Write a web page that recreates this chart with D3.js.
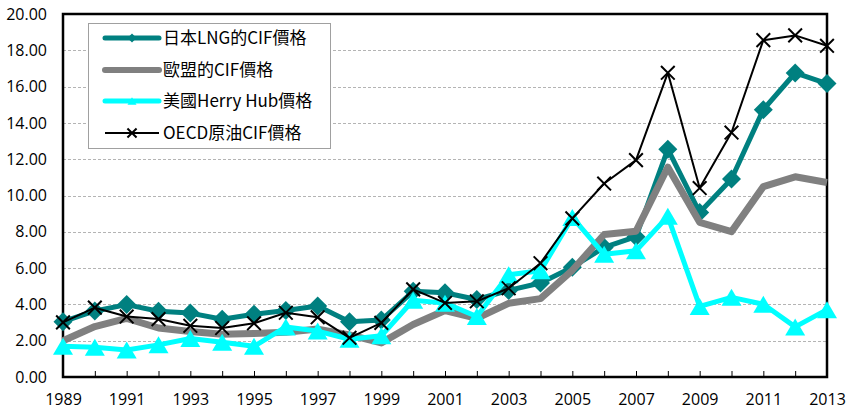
<!DOCTYPE html>
<html>
<head>
<meta charset="utf-8">
<script src="https://cdn.jsdelivr.net/npm/d3@7"></script>
<style>
  body { margin: 0; background: #fff; }
  text { font-family: "Open Sans", "Noto Sans CJK TC", sans-serif; }
</style>
</head>
<body>
<div id="chart"></div>
<script>
const w = 851;
const h = 409;

// data, US$/MMBtu
var years = d3.range(1989, 2014);
var yTicks = [0, 2, 4, 6, 8, 10, 12, 14, 16, 18, 20];
var labelYears = years.filter(function(y) { return y % 2 === 1; });

var japanLng = [3.05, 3.64, 3.99, 3.62, 3.52, 3.18, 3.46, 3.66, 3.91, 3.05, 3.14, 4.72, 4.64, 4.27, 4.77, 5.18, 6.05, 7.14, 7.73, 12.55, 9.06, 10.91, 14.73, 16.75, 16.17];
var euCif = [2.00, 2.78, 3.23, 2.70, 2.51, 2.35, 2.39, 2.46, 2.64, 2.32, 1.88, 2.89, 3.66, 3.23, 4.06, 4.32, 5.88, 7.85, 8.03, 11.56, 8.52, 8.01, 10.49, 11.03, 10.72];
var henryHub = [1.69, 1.64, 1.49, 1.77, 2.12, 1.92, 1.69, 2.76, 2.53, 2.08, 2.27, 4.23, 4.07, 3.33, 5.63, 5.85, 8.79, 6.76, 6.95, 8.85, 3.89, 4.39, 4.01, 2.76, 3.71];
var oecdOil = [3.01, 3.82, 3.33, 3.19, 2.82, 2.70, 2.96, 3.54, 3.29, 2.16, 2.98, 4.83, 4.08, 4.17, 4.89, 6.27, 8.74, 10.66, 11.95, 16.76, 10.41, 13.47, 18.56, 18.82, 18.25];

var series = [
    { name: "日本LNG的CIF價格", values: japanLng, color: "#008080", width: 5, marker: "diamond" },
    { name: "歐盟的CIF價格", values: euCif, color: "#808080", width: 7, marker: null },
    { name: "美國Herry Hub價格", values: henryHub, color: "#00ffff", width: 5, marker: "triangle" },
    { name: "OECD原油CIF價格", values: oecdOil, color: "#000000", width: 2, marker: "cross" }
];

var plotL = 63, plotR = 827, plotT = 14, plotB = 377;

var svg = d3.select("#chart")
    .append("svg")
    .attr("width", w)
    .attr("height", h);

var x = d3.scalePoint().domain(years).range([plotL, plotR]);
var y = d3.scaleLinear().domain([0, 20]).range([plotB, plotT]);

// gridlines
svg.append("g")
    .selectAll("line")
    .data(yTicks.filter(function(t) { return t > 0 && t < 20; }))
    .enter()
    .append("line")
    .attr("x1", plotL)
    .attr("x2", plotR)
    .attr("y1", function(d) { return Math.round(y(d)) + 0.5; })
    .attr("y2", function(d) { return Math.round(y(d)) + 0.5; })
    .attr("stroke", "#b4b4b4")
    .attr("stroke-width", 1)
    .attr("stroke-dasharray", "3,2");

// y labels
var yAxis = svg.append("g")
    .attr("transform", "translate(" + plotL + ",0)")
    .call(d3.axisLeft(y).tickValues(yTicks).tickSize(0).tickPadding(16).tickFormat(d3.format(".2f")));
yAxis.select(".domain").remove();
yAxis.selectAll("text").attr("font-size", 16).attr("fill", "#000")
    .style("font-family", "'Open Sans', sans-serif");

// x tick marks (inside) and labels
var xTicks = svg.append("g")
    .attr("transform", "translate(0," + plotB + ")")
    .call(d3.axisBottom(x).tickSize(-6).tickFormat(""));
xTicks.select(".domain").remove();
xTicks.selectAll("line").attr("stroke", "#000").attr("stroke-width", 1);

var xLabels = svg.append("g")
    .attr("transform", "translate(0," + plotB + ")")
    .call(d3.axisBottom(x).tickValues(labelYears).tickSize(0).tickPadding(17));
xLabels.select(".domain").remove();
xLabels.selectAll("text").attr("font-size", 16).attr("fill", "#000")
    .style("font-family", "'Open Sans', sans-serif");

// frame
svg.append("rect")
    .attr("x", plotL)
    .attr("y", plotT)
    .attr("width", plotR - plotL)
    .attr("height", plotB - plotT)
    .attr("fill", "none")
    .attr("stroke", "#000")
    .attr("stroke-width", 2.5);

var line = d3.line()
    .x(function(d, i) { return x(years[i]); })
    .y(function(d) { return y(d); });

// markers centred on their box, like the spreadsheet ones
function drawMarker(g, type, color, size) {
    var r = size / 2;
    if (type === "diamond") {
        g.append("path")
            .attr("d", "M0," + (-r) + "L" + r + ",0L0," + r + "L" + (-r) + ",0Z")
            .attr("fill", color);
    } else if (type === "triangle") {
        var th = size * 0.85 / 2;
        g.append("path")
            .attr("d", "M0," + (-th) + "L" + r + "," + th + "L" + (-r) + "," + th + "Z")
            .attr("fill", color);
    } else if (type === "cross") {
        var c = size * 0.38;
        g.append("path")
            .attr("d", "M" + (-c) + "," + (-c) + "L" + c + "," + c + "M" + c + "," + (-c) + "L" + (-c) + "," + c)
            .attr("fill", "none")
            .attr("stroke", color)
            .attr("stroke-width", 2);
    }
}

var markerSize = { diamond: 19, triangle: 20, cross: 18 };

series.forEach(function(s) {
    var g = svg.append("g");
    g.append("path")
        .datum(s.values)
        .attr("d", line)
        .attr("fill", "none")
        .attr("stroke", s.color)
        .attr("stroke-width", s.width)
        .attr("stroke-linejoin", "round");
    if (s.marker) {
        g.selectAll("g.pt")
            .data(s.values)
            .enter()
            .append("g")
            .attr("class", "pt")
            .attr("transform", function(d, i) {
                return "translate(" + x(years[i]) + "," + y(d) + ")";
            })
            .each(function() {
                drawMarker(d3.select(this), s.marker, s.color, markerSize[s.marker]);
            });
    }
});

// legend
var legend = svg.append("g");
legend.append("rect")
    .attr("x", 88.5)
    .attr("y", 23.5)
    .attr("width", 242)
    .attr("height", 125)
    .attr("fill", "#fff")
    .attr("stroke", "#a0a0a0")
    .attr("stroke-width", 1);

var legendY = [38, 70, 101, 133];
series.forEach(function(s, i) {
    var ly = legendY[i];
    var item = legend.append("g");
    item.append("line")
        .attr("x1", 105)
        .attr("x2", 159)
        .attr("y1", ly)
        .attr("y2", ly)
        .attr("stroke", s.color)
        .attr("stroke-width", s.width === 7 ? 6 : s.width)
        .attr("stroke-linecap", s.width > 2 ? "round" : "butt");
    if (s.marker) {
        var mg = item.append("g").attr("transform", "translate(132," + ly + ")");
        drawMarker(mg, s.marker, s.color, s.marker === "cross" ? 12 : 9);
    }
    item.append("text")
        .attr("x", 163)
        .attr("y", ly)
        .attr("dy", "0.35em")
        .attr("font-size", 17)
        .attr("fill", "#000")
        .style("font-family", "'Noto Sans CJK TC', sans-serif")
        .text(s.name);
});
</script>
</body>
</html>
